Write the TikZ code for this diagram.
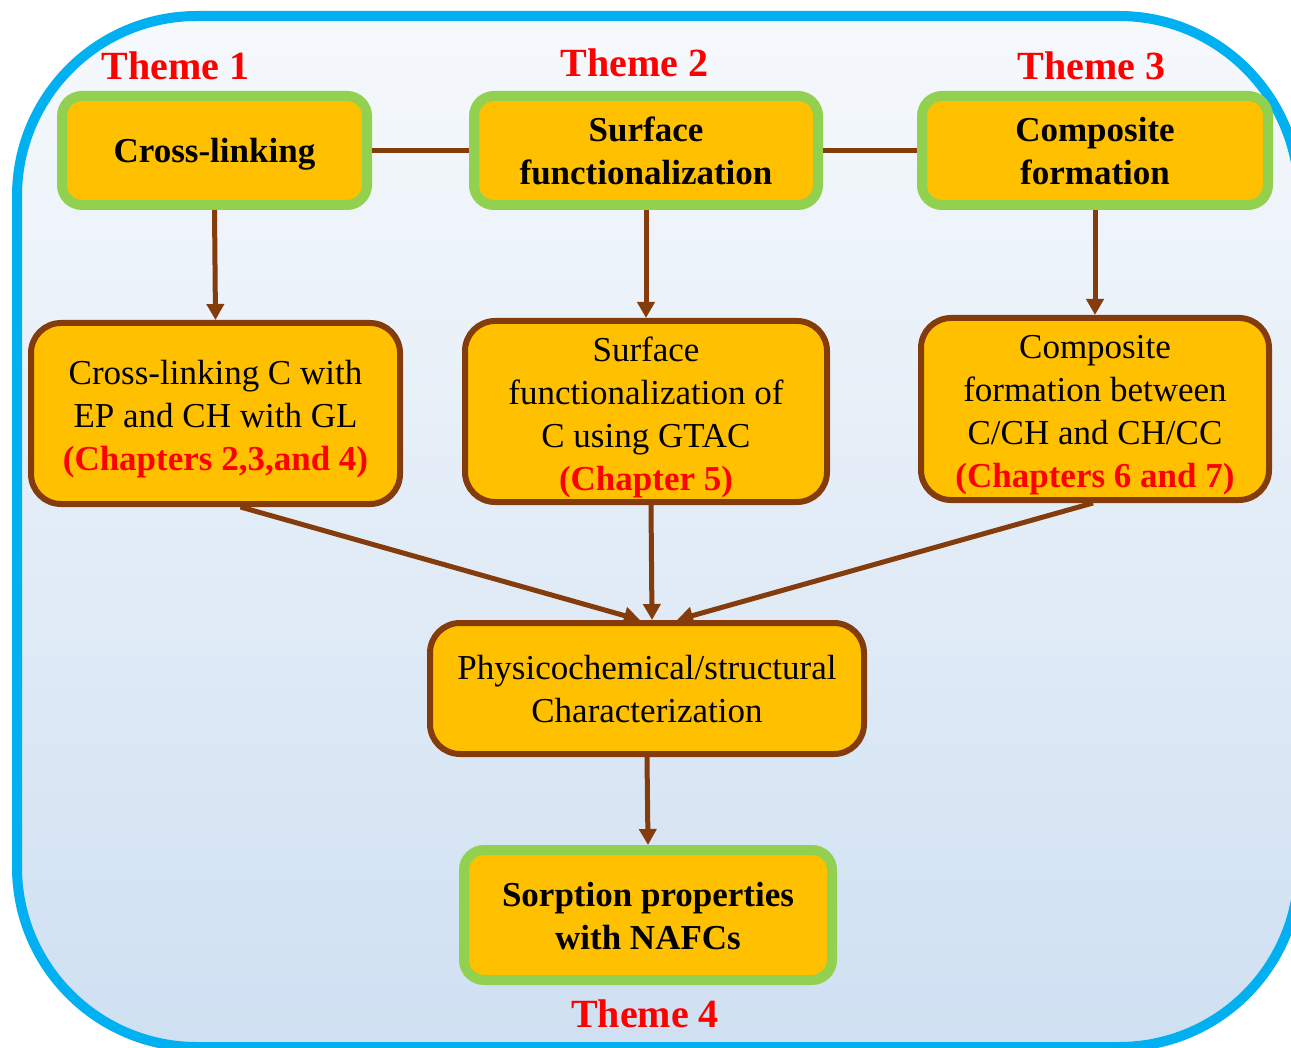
\documentclass[tikz,border=0pt]{standalone}
\usepackage{fontspec}
\setmainfont{Liberation Serif}
\usetikzlibrary{arrows.meta,calc}

\definecolor{frameblue}{HTML}{00B0F0}
\definecolor{boxorange}{HTML}{FFC000}
\definecolor{boxgreen}{HTML}{92D050}
\definecolor{linkbrown}{HTML}{843C0C}
\definecolor{bgtop}{RGB}{246,249,252}
\definecolor{bgbottom}{RGB}{207,224,242}
\definecolor{themered}{HTML}{FF0000}

% red bold chapter reference inside a step box
\newcommand\chapnote[1]{{\bfseries\color{themered}#1}}

\begin{document}
\begin{tikzpicture}[x=1pt,y=-1pt,
  themebox/.style={draw=boxgreen, line width=10pt, fill=boxorange,
    rounded corners=20pt, inner sep=0pt},
  stepbox/.style={draw=linkbrown, line width=6pt, fill=boxorange,
    rounded corners=30pt, inner sep=0pt},
  themetext/.style={inner sep=0pt, align=center,
    font=\fontsize{35}{43}\selectfont\bfseries},
  steptext/.style={inner sep=0pt, align=center,
    font=\fontsize{35}{43}\selectfont},
  themelabel/.style={text=themered, font=\fontsize{40}{48}\selectfont\bfseries,
    anchor=base, inner sep=0pt},
  link/.style={draw=linkbrown, line width=5pt},
  flow/.style={link, -{Triangle[length=16pt,width=17pt]}},
]
\useasboundingbox (0,0) rectangle (1291,1048);
\clip (0,0) rectangle (1291,1048);

% outer frame with vertical gradient
\shade[top color=bgtop, bottom color=bgbottom, rounded corners=180pt]
  (17,16) rectangle (1299,1047);
\draw[frameblue, line width=10pt, rounded corners=180pt]
  (17,16) rectangle (1299,1047);

% theme headings
\node[themelabel] (t1) at (175.5,80) {Theme 1};
\node[themelabel] (t2) at (634.5,77) {Theme 2};
\node[themelabel] (t3) at (1091.5,80) {Theme 3};
\node[themelabel] (t4) at (645,1027) {Theme 4};

% top row: themes
\node[themebox, minimum width=305pt, minimum height=109pt] (b1) at (214.5,150.5) {};
\node[themebox, minimum width=344pt, minimum height=109pt] (b2) at (646,150.5) {};
\node[themebox, minimum width=346pt, minimum height=109pt] (b3) at (1095,150.5) {};
\node[themetext] (b1t) at ([yshift=-4pt]b1.center) {Cross-linking};
\node[themetext] (b2t) at (b2.center) {Surface\\functionalization};
\node[themetext] (b3t) at ([yshift=-1pt]b3.center) {Composite\\formation};

% middle row: studies
\node[stepbox, minimum width=369pt, minimum height=181pt] (b4) at (215.5,413.5) {};
\node[stepbox, minimum width=362pt, minimum height=181pt] (b5) at (646,411.5) {};
\node[stepbox, minimum width=348pt, minimum height=182pt] (b6) at (1095,409) {};
\node[steptext] (b4t) at ([yshift=-5.5pt]b4.center)
  {Cross-linking C with\\EP and CH with GL\\\chapnote{(Chapters 2,3,and 4)}};
\node[steptext] (b5t) at ([yshift=-6pt]b5.center)
  {Surface\\functionalization of\\C using GTAC\\\chapnote{(Chapter 5)}};
\node[steptext] (b6t) at ([yshift=-6.5pt]b6.center)
  {Composite\\formation between\\C/CH and CH/CC\\\chapnote{(Chapters 6 and 7)}};

% characterization and sorption
\node[stepbox, minimum width=434pt, minimum height=131pt] (b7) at (647,688.5) {};
\node[themebox, minimum width=368pt, minimum height=130pt] (b8) at (648,915) {};
\node[steptext] (b7t) at ([yshift=-1pt]b7.center)
  {Physicochemical/structural\\Characterization};
\node[themetext] (b8t) at ([yshift=-1pt]b8.center)
  {Sorption properties\\with NAFCs};

% connectors
\draw[link] (b1.east) -- (b2.west);
\draw[link] (b2.east) -- (b3.west);
\draw[flow] (b1.south) -- (b4.north);
\draw[flow] (b2.south) -- (b5.north);
\draw[flow] (b3.south) -- (b6.north);
\draw[flow] ([xshift=25pt]b4.south) -- ([xshift=-7pt]b7.north);
\draw[flow] ([xshift=5pt]b5.south) -- ([xshift=5pt]b7.north);
\draw[flow] ([xshift=-2pt]b6.south) -- ([xshift=30pt]b7.north);
\draw[flow] (b7.south) -- (b8.north);
\end{tikzpicture}
\end{document}
